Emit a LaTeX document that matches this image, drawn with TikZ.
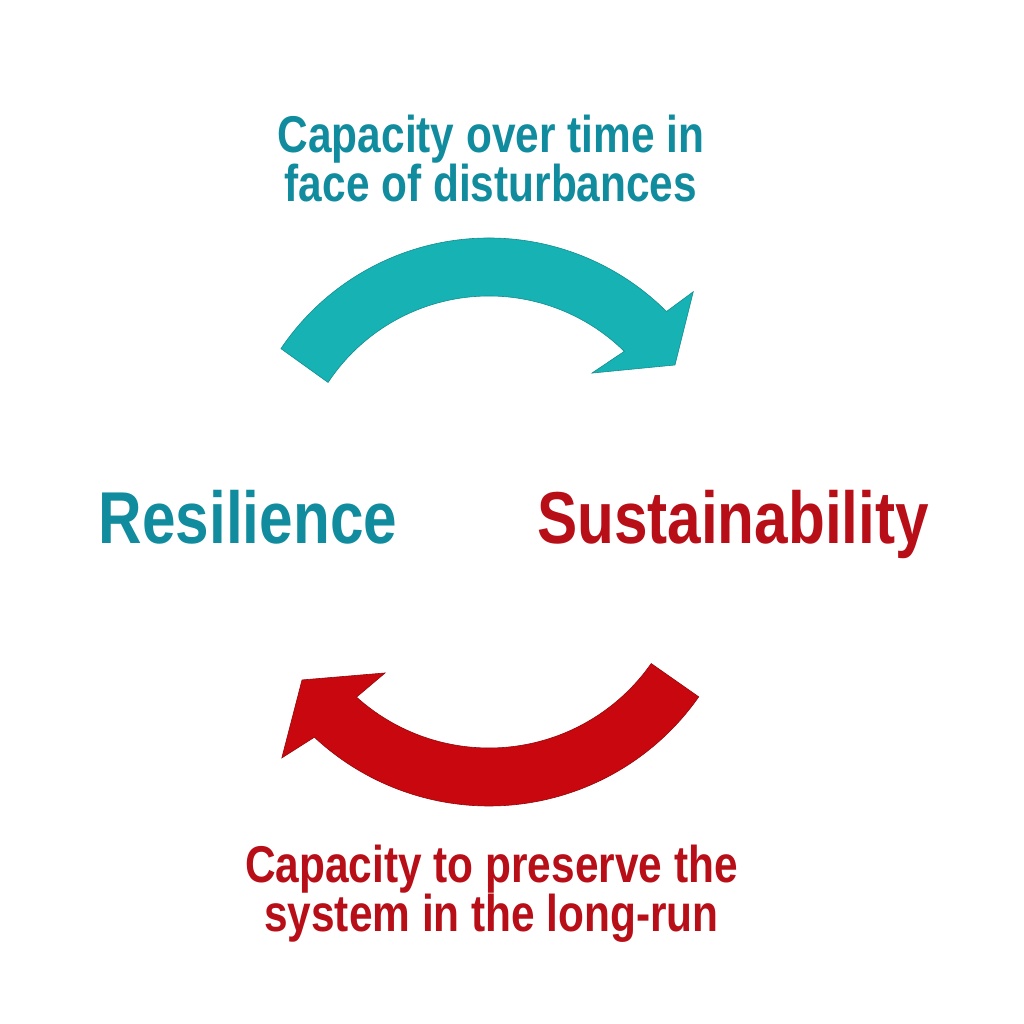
\documentclass[tikz,border=0pt]{standalone}
\usepackage{fontspec}
\newfontfamily\labfont[FakeStretch=0.82]{Liberation Sans}
\definecolor{arrteal}{RGB}{22,178,180}
\definecolor{txtteal}{RGB}{16,140,158}
\definecolor{arrred}{RGB}{200,8,14}
\definecolor{txtred}{RGB}{184,14,24}
\tikzset{
  desc/.style={font=\labfont\bfseries\fontsize{51.7}{47}\selectfont, align=center, anchor=base, inner sep=0pt},
  big/.style={font=\labfont\bfseries\fontsize{73.5}{80}\selectfont, anchor=base, inner sep=0pt},
  tealarrow/.style={fill=arrteal, draw=arrteal!80!black, line width=0.6pt, line join=miter},
  redarrow/.style={fill=arrred, draw=arrred!75!black, line width=0.6pt, line join=miter}
}
\begin{document}
\begin{tikzpicture}[x=1pt,y=1pt]
\fill[white] (0,0) rectangle (1024,1024);
\useasboundingbox (0,0) rectangle (1024,1024);

\coordinate (ct) at (489,535);
\coordinate (cb) at (489,474);

% top teal arrow
\filldraw[tealarrow] ([shift={(146:251)}]ct) arc[start angle=146, end angle=45, radius=251]
  -- ([shift={(44:284)}]ct) -- ([shift={(33.7:223.5)}]ct) -- ([shift={(48.4:155)}]ct)
  -- ([shift={(45.5:193)}]ct) arc[start angle=45.5, end angle=146.5, radius=193] -- cycle;

% bottom red arrow
\filldraw[redarrow] ([shift={(-35:256)}]cb) arc[start angle=-35, end angle=-133, radius=256]
  -- ([shift={(-134.9:293.5)}]cb) -- ([shift={(-145.2:227.7)}]cb) -- ([shift={(-130.2:161)}]cb)
  -- ([shift={(-132:198)}]cb) arc[start angle=-132, end angle=-35, radius=198] -- cycle;

\node[desc, text=txtteal] (toptxt) at (491,822) {Capacity over time in\\face of disturbances};
\node[desc, text=txtred] (bottxt) at (491.5,92) {Capacity to preserve the\\system in the long-run};
\node[big, text=txtteal] (res) at (248,480.5) {Resilience};
\node[big, text=txtred] (sus) at (733,480.5) {Sustainability};
\end{tikzpicture}
\end{document}
